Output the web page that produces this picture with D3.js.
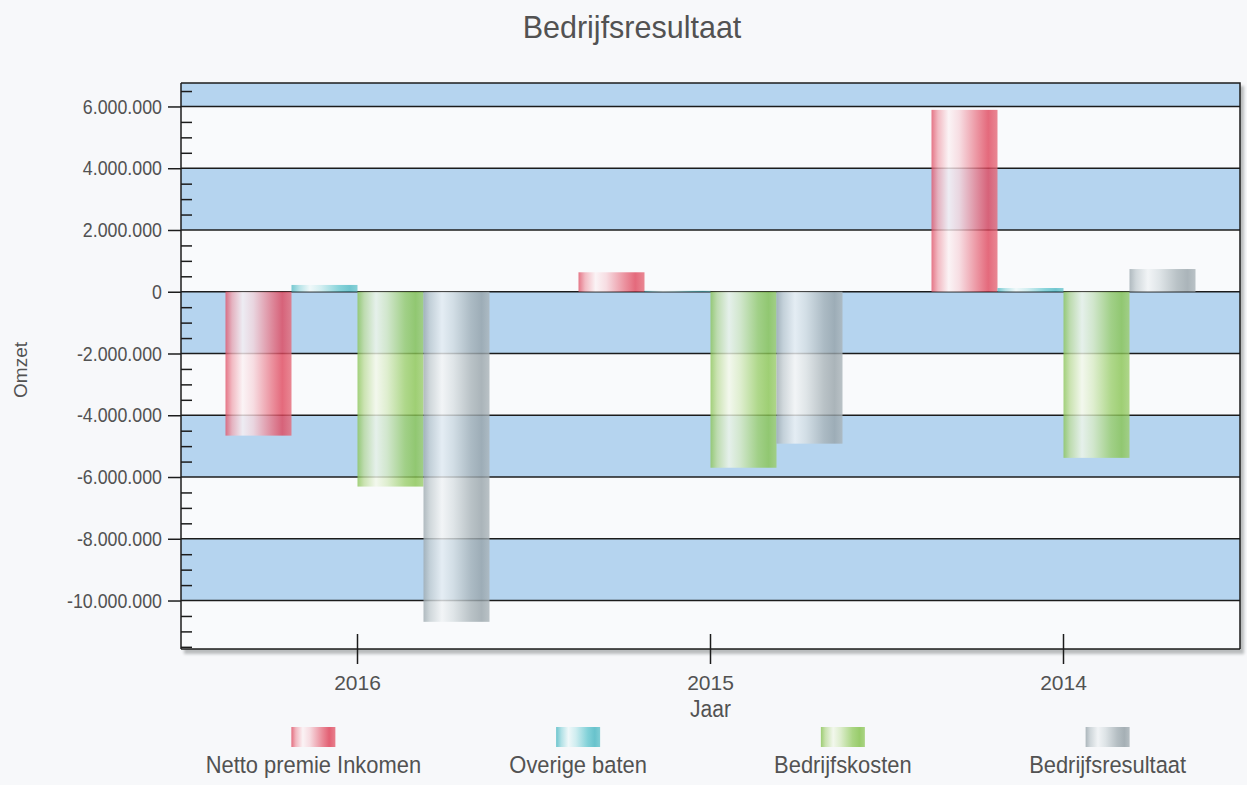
<!DOCTYPE html>
<html>
<head>
<meta charset="utf-8">
<script src="https://cdn.jsdelivr.net/npm/d3@7/dist/d3.min.js"></script>
<style>
  html, body { margin: 0; padding: 0; background: #f7f8fa; }
  svg { display: block; }
  text { font-family: "Liberation Sans", Arial, sans-serif; fill: #525252; }
</style>
</head>
<body>
<svg id="chart" width="1247" height="785"></svg>
<script>
// ---- data -------------------------------------------------------------
const years = ["2016", "2015", "2014"];
const seriesNames = ["Netto premie Inkomen", "Overige baten", "Bedrijfskosten", "Bedrijfsresultaat"];
const nettoPremieInkomen = [-4660000, 630000, 5890000];
const overigeBaten = [220000, 30000, 120000];
const bedrijfskosten = [-6310000, -5700000, -5380000];
const bedrijfsresultaat = [-10690000, -4920000, 735000];
const yTickValues = [6000000, 4000000, 2000000, 0, -2000000, -4000000, -6000000, -8000000, -10000000];
const titleText = "Bedrijfsresultaat";
const xTitle = "Jaar";
const yTitle = "Omzet";

// ---- layout -----------------------------------------------------------
const plot = { left: 181, right: 1240, top: 83, bottom: 649 };
const yMin = -11570000, yMax = 6760000;
const stretch = 1.1; // text is drawn slightly taller than its natural proportions

const svg = d3.select("#chart");
const defs = svg.append("defs");

const nl = d3.formatLocale({ decimal: ",", thousands: ".", grouping: [3], currency: ["€", ""], minus: "-" });
const fmt = nl.format(",d");

const y = d3.scaleLinear().domain([yMin, yMax]).range([plot.bottom, plot.top]);
const x0 = d3.scaleBand().domain(years).range([plot.left, plot.right]).padding(0);
const groupPad = 44.5;
const x1 = d3.scaleBand().domain(seriesNames).range([groupPad, x0.bandwidth() - groupPad]).padding(0);

const table = years.map((yr, i) => ({
  year: yr,
  values: [nettoPremieInkomen[i], overigeBaten[i], bedrijfskosten[i], bedrijfsresultaat[i]]
}));

// colour gradients per series (edge colour, highlight, deeper tone)
const palettes = [
  { id: "gRed",   stops: [["0%", "#e0556a"], ["10%", "#f0aab4"], ["26%", "#fbf2f4"], ["42%", "#f6d6dc"], ["70%", "#e87888"], ["86%", "#df465c"], ["100%", "#e56a79"]] },
  { id: "gCyan",  stops: [["0%", "#55bcc6"], ["12%", "#a6dde2"], ["28%", "#eef8f9"], ["45%", "#c8ebee"], ["72%", "#6ccad2"], ["88%", "#4fb9c4"], ["100%", "#6cc6ce"]] },
  { id: "gGreen", stops: [["0%", "#8cc55a"], ["10%", "#bfdd9f"], ["28%", "#f1f7ea"], ["45%", "#d8ebc4"], ["72%", "#9ccf6e"], ["88%", "#88c452"], ["100%", "#9ccd6e"]] },
  { id: "gGray",  stops: [["0%", "#9eaab0"], ["10%", "#c6cfd3"], ["28%", "#f0f3f5"], ["45%", "#d9e0e3"], ["72%", "#a9b4b9"], ["88%", "#97a3a9"], ["100%", "#aab4b9"]] }
];
palettes.forEach(p => {
  const g = defs.append("linearGradient").attr("id", p.id)
    .attr("x1", "0%").attr("x2", "100%").attr("y1", "0%").attr("y2", "0%");
  p.stops.forEach(s => g.append("stop").attr("offset", s[0]).attr("stop-color", s[1]));
});
const fillOf = d3.scaleOrdinal().domain(seriesNames).range(palettes.map(p => `url(#${p.id})`));

// soft drop shadow behind the plot frame
const blur = defs.append("filter").attr("id", "shadowBlur").attr("x", "-5%").attr("y", "-5%").attr("width", "110%").attr("height", "110%");
blur.append("feGaussianBlur").attr("stdDeviation", 1.6);

// ---- title -----------------------------------------------------------
svg.append("text")
  .attr("x", 632).attr("y", 38)
  .attr("text-anchor", "middle")
  .style("font-size", "30.5px")
  .text(titleText);

// ---- plot background and alternating bands ---------------------------
svg.append("rect")
  .attr("x", plot.left + 3).attr("y", plot.top + 3)
  .attr("width", plot.right - plot.left + 1).attr("height", plot.bottom - plot.top + 2)
  .attr("fill", "#b9bcbd").attr("filter", "url(#shadowBlur)");

svg.append("rect")
  .attr("x", plot.left).attr("y", plot.top)
  .attr("width", plot.right - plot.left).attr("height", plot.bottom - plot.top)
  .attr("fill", "#f9fafc");

// bands between gridlines, every other interval shaded blue
const bandEdges = [yMax].concat(yTickValues).concat([yMin]);
const bands = d3.pairs(bandEdges).filter((d, i) => i % 2 === 0);
svg.append("g").selectAll("rect").data(bands).join("rect")
  .attr("x", plot.left)
  .attr("y", d => y(d[0]))
  .attr("width", plot.right - plot.left)
  .attr("height", d => y(d[1]) - y(d[0]))
  .attr("fill", "#b5d4ef");

// horizontal gridlines
svg.append("g").selectAll("line").data(yTickValues).join("line")
  .attr("x1", plot.left).attr("x2", plot.right)
  .attr("y1", d => y(d)).attr("y2", d => y(d))
  .attr("stroke", "#1c1c1c").attr("stroke-width", 1.5);

// ---- bars -------------------------------------------------------------
const groups = svg.append("g").selectAll("g").data(table).join("g")
  .attr("transform", d => `translate(${x0(d.year)},0)`);

groups.selectAll("rect")
  .data(d => d.values.map((v, i) => ({ key: seriesNames[i], value: v })))
  .join("rect")
  .attr("x", d => x1(d.key))
  .attr("width", x1.bandwidth())
  .attr("y", d => y(Math.max(0, d.value)))
  .attr("height", d => Math.abs(y(d.value) - y(0)))
  .attr("fill", d => fillOf(d.key))
  .attr("opacity", 0.8);

// frame (top and right edges)
svg.append("path")
  .attr("d", `M${plot.left},${plot.top}H${plot.right}V${plot.bottom}`)
  .attr("fill", "none").attr("stroke", "#1c1c1c").attr("stroke-width", 1.5);

// ---- y axis -----------------------------------------------------------
const yAxis = svg.append("g")
  .attr("transform", `translate(${plot.left},0)`)
  .call(d3.axisLeft(y).tickValues(yTickValues).tickFormat(fmt).tickSize(13).tickPadding(6));
yAxis.select(".domain").attr("stroke", "#1c1c1c").attr("stroke-width", 1.5)
  .attr("d", `M0,${plot.top}V${plot.bottom}`);
yAxis.selectAll(".tick line").attr("stroke", "#1c1c1c").attr("stroke-width", 1.5);
yAxis.selectAll(".tick text")
  .style("font-size", "17.8px").style("font-family", "'Liberation Sans', Arial, sans-serif")
  .attr("fill", "#525252").attr("transform", "scale(1,1.15)");

// minor ticks pointing into the plot
const minorTicks = d3.range(-11500000, 6760000, 500000).filter(v => v % 2000000 !== 0);
const yMinor = svg.append("g")
  .attr("transform", `translate(${plot.left},0)`)
  .call(d3.axisRight(y).tickValues(minorTicks).tickFormat("").tickSize(11));
yMinor.select(".domain").remove();
yMinor.selectAll(".tick line").attr("stroke", "#1c1c1c").attr("stroke-width", 1.5);

// ---- x axis -----------------------------------------------------------
const xAxis = svg.append("g")
  .attr("transform", `translate(0,${plot.bottom})`)
  .call(d3.axisBottom(x0).tickSize(15).tickPadding(11));
xAxis.select(".domain").attr("stroke", "#1c1c1c").attr("stroke-width", 1.5)
  .attr("d", `M${plot.left},0H${plot.right}`);
xAxis.selectAll(".tick line").attr("stroke", "#1c1c1c").attr("stroke-width", 1.5).attr("y1", -15);
xAxis.selectAll(".tick text")
  .style("font-size", "21px").style("font-family", "'Liberation Sans', Arial, sans-serif")
  .attr("fill", "#525252");

// axis titles
svg.append("g").attr("transform", `translate(${(plot.left + plot.right) / 2},717) scale(1,${stretch})`)
  .append("text")
  .attr("text-anchor", "middle").style("font-size", "21px")
  .text(xTitle);

svg.append("text")
  .attr("transform", `translate(27,370) rotate(-90)`)
  .attr("text-anchor", "middle").style("font-size", "19px")
  .text(yTitle);

// ---- legend -----------------------------------------------------------
const xl = d3.scaleBand().domain(seriesNames).range([plot.left, plot.right]);
const legend = svg.append("g").selectAll("g").data(seriesNames).join("g")
  .attr("transform", d => `translate(${xl(d) + xl.bandwidth() / 2},0)`);
legend.append("rect")
  .attr("x", -22).attr("y", 727).attr("width", 44).attr("height", 20)
  .attr("fill", d => fillOf(d)).attr("opacity", 0.85);
legend.append("g")
  .attr("transform", `translate(0,773) scale(1,${stretch})`)
  .append("text")
  .attr("text-anchor", "middle")
  .style("font-size", "21.9px")
  .text(d => d);
</script>
</body>
</html>
